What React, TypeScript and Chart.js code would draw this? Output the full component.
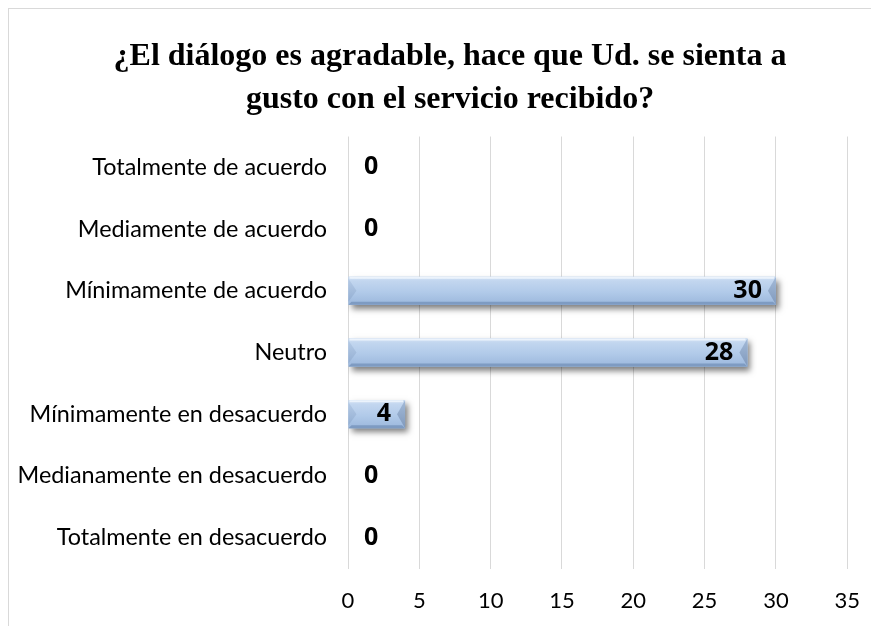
import React, { useEffect, useRef } from "react";
import { Chart, registerables } from "chart.js";

Chart.register(...registerables);

const categories = [
  "Totalmente de acuerdo",
  "Mediamente de acuerdo",
  "Mínimamente de acuerdo",
  "Neutro",
  "Mínimamente en desacuerdo",
  "Medianamente en desacuerdo",
  "Totalmente en desacuerdo",
];
const values = [0, 0, 30, 28, 4, 0, 0];
const xTicks = [0, 5, 10, 15, 20, 25, 30, 35];
const titleLines = [
  "¿El diálogo es agradable, hace que Ud. se sienta a",
  "gusto con el servicio recibido?",
];

const shadowPlugin = {
  id: "barShadow",
  afterLayout(chart: any) {
    if (chart.titleBlock) {
      chart.titleBlock.left = 40;
      chart.titleBlock.width = chart.titleBlock.right - 40;
    }
  },
  beforeDatasetDraw(chart: any) {
    const ctx = chart.ctx;
    ctx.save();
    ctx.shadowColor = "rgba(0,0,0,0.5)";
    ctx.shadowBlur = 6;
    ctx.shadowOffsetX = 3;
    ctx.shadowOffsetY = 4;
  },
  afterDatasetDraw(chart: any) {
    chart.ctx.restore();
  },
};

const bevelPlugin = {
  id: "bevel",
  afterDatasetsDraw(chart: any) {
    const ctx = chart.ctx;
    const meta = chart.getDatasetMeta(0);
    const xScale = chart.scales.x;
    meta.data.forEach((el: any, i: number) => {
      const v = values[i];
      const props = el.getProps(["x", "y", "base", "height"], true);
      const x0 = Math.min(props.base, props.x);
      const x1 = Math.max(props.base, props.x);
      const top = props.y - props.height / 2;
      const bot = props.y + props.height / 2;
      const mid = props.y;
      ctx.save();
      if (v > 0) {
        const g = ctx.createLinearGradient(0, top, 0, bot);
        g.addColorStop(0, "#d4e3f5");
        g.addColorStop(0.15, "#c2d6ef");
        g.addColorStop(0.55, "#b1cae9");
        g.addColorStop(1, "#9bb7dc");
        ctx.fillStyle = g;
        ctx.fillRect(x0, top, x1 - x0, bot - top);
        const b = Math.min(8, (x1 - x0) / 2);
        // left bevel (triangle)
        const gl = ctx.createLinearGradient(0, top, 0, bot);
        gl.addColorStop(0, "#b8cde8");
        gl.addColorStop(1, "#8fabd0");
        ctx.fillStyle = gl;
        ctx.beginPath();
        ctx.moveTo(x0, top + 2);
        ctx.lineTo(x0 + b, mid);
        ctx.lineTo(x0, bot - 3);
        ctx.closePath();
        ctx.fill();
        // right bevel (triangle)
        const gr = ctx.createLinearGradient(0, top, 0, bot);
        gr.addColorStop(0, "#a3bad8");
        gr.addColorStop(1, "#8099bc");
        ctx.fillStyle = gr;
        ctx.beginPath();
        ctx.moveTo(x1, top);
        ctx.lineTo(x1 - b, mid);
        ctx.lineTo(x1, bot);
        ctx.closePath();
        ctx.fill();
        // top highlight
        ctx.fillStyle = "rgba(238,245,253,0.9)";
        ctx.fillRect(x0 + 1, top, x1 - x0 - 3, 2);
        // bottom dark edge
        ctx.fillStyle = "#7e9bc2";
        ctx.beginPath();
        ctx.moveTo(x0, bot);
        ctx.lineTo(x0 + 3, bot - 3);
        ctx.lineTo(x1 - 3, bot - 3);
        ctx.lineTo(x1, bot);
        ctx.closePath();
        ctx.fill();
      }
      // data label
      ctx.fillStyle = "#000";
      ctx.font = "bold 25px 'Open Sans'";
      ctx.textBaseline = "middle";
      if (v > 0) {
        ctx.textAlign = "right";
        ctx.fillText(String(v), x1 - 14, mid);
      } else {
        ctx.textAlign = "left";
        ctx.fillText(String(v), xScale.getPixelForValue(0) + 16, mid);
      }
      ctx.restore();
    });
  },
};

export default function App() {
  const ref = useRef<HTMLCanvasElement | null>(null);
  useEffect(() => {
    if (!ref.current) return;
    const chart = new Chart(ref.current, {
      type: "bar",
      data: {
        labels: categories,
        datasets: [
          {
            data: values,
            backgroundColor: "#a9c3e4",
            borderWidth: 0,
            barPercentage: 0.454,
            categoryPercentage: 1,
          },
        ],
      },
      options: {
        indexAxis: "y",
        animation: false,
        responsive: false,
        devicePixelRatio: 1,
        layout: { padding: { left: 0, right: 28, top: 0, bottom: 0 } },
        plugins: {
          legend: { display: false },
          tooltip: { enabled: false },
          title: {
            display: true,
            text: titleLines,
            color: "#000",
            font: { family: "'Liberation Serif'", size: 32, weight: "bold", lineHeight: 1.344 },
            padding: { top: 26.5, bottom: 15 },
          },
        },
        scales: {
          x: {
            min: 0,
            max: 35,
            afterBuildTicks(scale: any) {
              scale.ticks = xTicks.map((v) => ({ value: v }));
            },
            afterFit(scale: any) {
              scale.height = 57.5;
            },
            grid: { color: "#d9d9d9", lineWidth: 1, drawTicks: false },
            border: { display: false },
            ticks: {
              color: "#000",
              font: { family: "Lato", size: 22 },
              padding: 19,
              maxRotation: 0,
            },
          },
          y: {
            afterFit(scale: any) {
              scale.width = 339;
            },
            grid: { display: false, drawTicks: false },
            border: { display: false },
            ticks: {
              color: "#000",
              font: { family: "Lato", size: 23.4 },
              padding: 21,
            },
          },
        },
      },
      plugins: [shadowPlugin, bevelPlugin],
    });
    return () => chart.destroy();
  }, []);
  return (
    <div
      style={{
        borderLeft: "1px solid #d9d9d9",
        borderTop: "1px solid #d9d9d9",
        width: 870,
        height: 617,
        overflow: "hidden",
        background: "#fff",
      }}
    >
      <canvas ref={ref} width={870} height={617} style={{ display: "block", width: 870, height: 617 }} />
    </div>
  );
}
